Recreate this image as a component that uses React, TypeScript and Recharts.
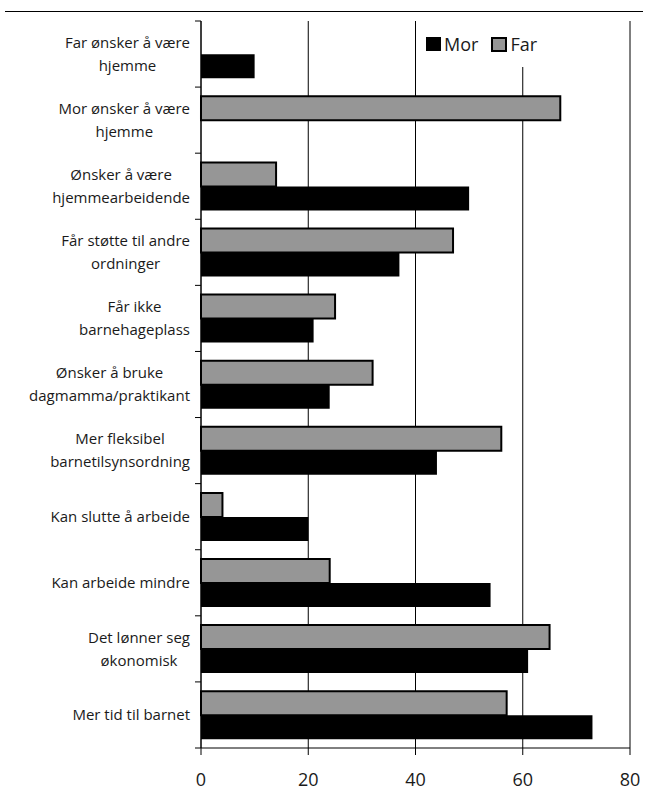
import { BarChart, Bar, XAxis, YAxis, CartesianGrid } from "recharts";

const categories = [
  "Far ønsker å være\nhjemme",
  "Mor ønsker å være\nhjemme",
  "Ønsker å være\nhjemmearbeidende",
  "Får støtte til andre\nordninger",
  "Får ikke\nbarnehageplass",
  "Ønsker å bruke\ndagmamma/praktikant",
  "Mer fleksibel\nbarnetilsynsordning",
  "Kan slutte å arbeide",
  "Kan arbeide mindre",
  "Det lønner seg\nøkonomisk",
  "Mer tid til barnet",
];

const morValues = [10, null, 50, 37, 21, 24, 44, 20, 54, 61, 73];
const farValues = [null, 67, 14, 47, 25, 32, 56, 4, 24, 65, 57];
const xTicks = [0, 20, 40, 60, 80];

const data = categories.map((name, i) => ({ name, Mor: morValues[i], Far: farValues[i] }));

const FONT = '"Open Sans", sans-serif';
const TEXT = "#1a1a1a";
const LABEL_SIZE = 15;
const TOP = 21;
const BOTTOM = 748;
const AXIS_X = 201;
const X_AXIS_H = 50;

let ctx: CanvasRenderingContext2D | null = null;
function textWidth(s: string, size: number) {
  if (!ctx) ctx = document.createElement("canvas").getContext("2d");
  if (!ctx) return s.length * size * 0.5;
  ctx.font = `${size}px "Open Sans"`;
  return ctx.measureText(s).width;
}

// labels: block right-aligned, lines centred inside it (like Excel wrap)
const CategoryTick = (props: any) => {
  const { y, payload, index } = props;
  const band = (BOTTOM - TOP) / categories.length;
  const lines = String(payload.value).split("\n");
  const maxW = Math.max(...lines.map((l) => textWidth(l, LABEL_SIZE)));
  const cx = 190 - maxW / 2;
  const lh = 23;
  const y0 = y - ((lines.length - 1) * lh) / 2;
  return (
    <g>
      <line x1={195} x2={AXIS_X} y1={y - band / 2} y2={y - band / 2} stroke="#000" />
      {index === categories.length - 1 && (
        <line x1={195} x2={AXIS_X} y1={y + band / 2} y2={y + band / 2} stroke="#000" />
      )}
      <text textAnchor="middle" fontSize={LABEL_SIZE} fontFamily={FONT} fill={TEXT}>
        {lines.map((l, i) => (
          <tspan key={i} x={cx} y={y0 + i * lh} dy="0.35em">
            {l}
          </tspan>
        ))}
      </text>
    </g>
  );
};

export default function App() {
  return (
    <div
      style={{
        position: "absolute",
        left: 0,
        top: 0,
        width: 648,
        height: 805,
        background: "#fff",
        fontFamily: FONT,
      }}
    >
      <div style={{ position: "absolute", left: 5, top: 11, width: 638, borderTop: "1px solid #000" }} />
      <BarChart
        width={648}
        height={805}
        data={data}
        layout="vertical"
        margin={{ top: TOP, right: 18, bottom: 805 - BOTTOM - X_AXIS_H, left: 6 }}
        barCategoryGap="14%"
        barGap={0}
      >
        <CartesianGrid horizontal={false} stroke="#000" />
        <XAxis
          type="number"
          domain={[0, 80]}
          ticks={xTicks}
          height={X_AXIS_H}
          tick={{ fontSize: 18, fill: TEXT, fontFamily: FONT }}
          tickSize={7}
          tickMargin={18}
          axisLine={{ stroke: "#000" }}
          tickLine={{ stroke: "#000" }}
        />
        <YAxis
          type="category"
          dataKey="name"
          width={195}
          interval={0}
          tickLine={false}
          axisLine={{ stroke: "#000" }}
          tick={<CategoryTick />}
        />
        <Bar dataKey="Far" fill="#969696" stroke="#000" strokeWidth={2} isAnimationActive={false} />
        <Bar dataKey="Mor" fill="#000" isAnimationActive={false} />
      </BarChart>
      <div
        style={{
          position: "absolute",
          left: 420,
          top: 21,
          width: 150,
          height: 46,
          background: "#fff",
          display: "flex",
          alignItems: "flex-start",
          paddingTop: 12,
          boxSizing: "border-box",
          fontSize: 18,
          color: TEXT,
          lineHeight: "22px",
        }}
      >
        <span style={{ display: "inline-block", width: 15, height: 14, background: "#000", marginLeft: 6, marginTop: 4 }} />
        <span style={{ marginLeft: 3 }}>Mor</span>
        <span
          style={{
            display: "inline-block",
            width: 12,
            height: 11,
            background: "#969696",
            border: "2px solid #000",
            marginLeft: 13,
            marginTop: 4,
          }}
        />
        <span style={{ marginLeft: 3 }}>Far</span>
      </div>
    </div>
  );
}
